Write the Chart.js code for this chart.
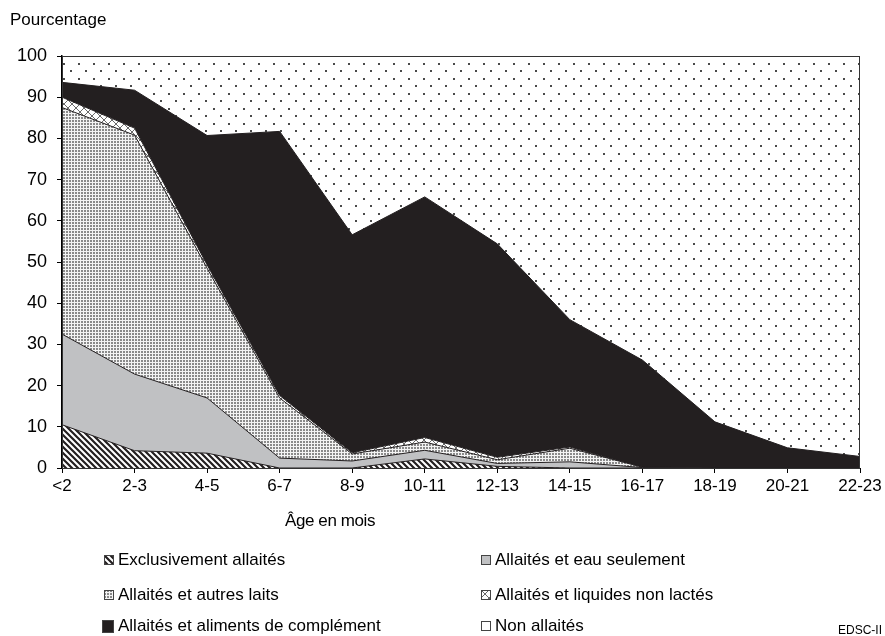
<!DOCTYPE html>
<html>
<head>
<meta charset="utf-8">
<script src="https://cdn.jsdelivr.net/npm/chart.js@4/dist/chart.umd.min.js"></script>
<style>
  body { margin:0; background:#fff; font-family:"Liberation Sans", Arial, sans-serif; color:#000; }
  #wrap { position:relative; width:885px; height:636px; overflow:hidden; }
  #chart { position:absolute; left:0; top:0; }
  .txt { position:absolute; white-space:nowrap; }
  #ytitle { left:10px; top:10px; font-size:17px; }
  #xtitle { left:285px; top:511px; font-size:17px; letter-spacing:-0.4px; }
  #source { left:838px; top:623px; font-size:12px; }
  .leg { position:absolute; font-size:17px; white-space:nowrap; display:flex; align-items:center; }
  .leg canvas { margin-right:4px; }
</style>
</head>
<body>
<div id="wrap">
  <canvas id="chart" width="885" height="636"></canvas>
  <div class="txt" id="ytitle">Pourcentage</div>
  <div class="txt" id="xtitle">Âge en mois</div>
  <div class="txt" id="source">EDSC-II 2007</div>
  <div id="legend"></div>
</div>
<script>

/* DATA */

const ages = ["<2","2-3","4-5","6-7","8-9","10-11","12-13","14-15","16-17","18-19","20-21","22-23"];

const exclusif   = [10.5, 4.2, 3.6, 0, 0, 2.2, 0.4, 0, 0, 0, 0, 0];
const eau        = [22.0, 18.6, 13.4, 2.4, 1.7, 2.1, 0.7, 1.5, 0.1, 0, 0, 0];
const autresLaits= [55.0, 58.0, 31.5, 14.6, 1.7, 2.0, 0.9, 3.3, 0.1, 0, 0, 0];
const liquides   = [2.5, 1.7, 0.8, 0.6, 0.3, 1.1, 0.6, 0.3, 0, 0, 0, 0];
const complement = [3.6, 9.2, 31.4, 64.1, 52.9, 58.4, 51.8, 30.9, 26.0, 11.2, 4.9, 2.8];
const nonAllaites= [6.4, 8.3, 19.3, 18.3, 43.4, 34.2, 45.6, 64.0, 73.8, 88.8, 95.1, 97.2];

const yTicks = [0,10,20,30,40,50,60,70,80,90,100];

/* PATTERNS */

function tile(w, h, draw){
  const c = document.createElement("canvas");
  c.width = w; c.height = h;
  const g = c.getContext("2d");
  draw(g);
  return c;
}

const hatchTile = tile(6, 6, g=>{
  g.fillStyle = "#fff"; g.fillRect(0,0,6,6);
  g.strokeStyle = "#231f20"; g.lineWidth = 2.2;
  g.beginPath();
  g.moveTo(-6,-6); g.lineTo(12,12);
  g.moveTo(-6,0); g.lineTo(6,12);
  g.moveTo(0,-6); g.lineTo(12,6);
  g.stroke();
});

const stippleTile = tile(3, 3, g=>{
  g.fillStyle = "#f4f4f4"; g.fillRect(0,0,3,3);
  g.fillStyle = "#8a8a8a"; g.fillRect(0,0,2,2);
});

const crossTile = tile(8, 8, g=>{
  g.fillStyle = "#fff"; g.fillRect(0,0,8,8);
  g.strokeStyle = "#6a6a6a"; g.lineWidth = 1;
  g.beginPath();
  g.moveTo(0,0); g.lineTo(8,8);
  g.moveTo(8,0); g.lineTo(0,8);
  g.stroke();
});

const dotsTile = tile(15, 15, g=>{
  g.fillStyle = "#fff"; g.fillRect(0,0,15,15);
  g.fillStyle = "#4a4a4a";
  g.fillRect(3,3,2,2);
  g.fillRect(10,10,2,2);
});

const ctx = document.getElementById("chart").getContext("2d");
const pat = t => ctx.createPattern(t, "repeat");

const fills = [
  pat(hatchTile),
  "#c0c1c3",
  pat(stippleTile),
  pat(crossTile),
  "#231f20",
  pat(dotsTile)
];

const names = [
  "Exclusivement allaités",
  "Allaités et eau seulement",
  "Allaités et autres laits",
  "Allaités et liquides non lactés",
  "Allaités et aliments de complément",
  "Non allaités"
];

const series = [exclusif, eau, autresLaits, liquides, complement, nonAllaites];

/* CHART */

const framePlugin = {
  id:"frame",
  afterDatasetsDraw(chart){
    const a = chart.chartArea;
    const c = chart.ctx;
    c.save();
    c.strokeStyle = "#333";
    c.lineWidth = 1;
    c.strokeRect(a.left+0.5, a.top+0.5, a.right-a.left-1, a.bottom-a.top);
    c.restore();
  }
};

new Chart(ctx, {
  type:"line",
  data:{
    labels:ages,
    datasets:series.map((d,i)=>({
      label:names[i],
      data:d,
      backgroundColor:fills[i],
      borderColor:"#231f20",
      borderWidth:1,
      fill:i===0 ? "origin" : "-1",
      pointRadius:0,
      tension:0
    }))
  },
  options:{
    responsive:false,
    animation:false,
    layout:{ padding:{ left:0, top:56, right:25, bottom:138 } },
    plugins:{ legend:{ display:false }, tooltip:{ enabled:false } },
    scales:{
      x:{
        offset:false,
        grid:{ display:true, drawOnChartArea:false, drawTicks:true, tickLength:5, color:"#000" },
        border:{ display:true, color:"#000", width:1 },
        ticks:{ color:"#000", font:{ family:"Liberation Sans", size:17 }, padding:3, maxRotation:0, autoSkip:false },
        afterFit(s){ s.height = 30; }
      },
      y:{
        stacked:true,
        min:0, max:100,
        afterBuildTicks(s){ s.ticks = yTicks.map(v=>({ value:v })); },
        grid:{ display:true, drawOnChartArea:false, drawTicks:true, tickLength:5, color:"#000" },
        border:{ display:true, color:"#000", width:1.5 },
        ticks:{ color:"#000", font:{ family:"Liberation Sans", size:18 }, padding:10 },
        afterFit(s){ s.width = 62; }
      }
    }
  },
  plugins:[framePlugin]
});

/* LEGEND */

const legend = document.getElementById("legend");
const legPos = [
  [104, 550], [481, 550],
  [104, 585], [481, 585],
  [102, 616], [481, 616]
];

names.forEach((n,i)=>{
  const item = document.createElement("div");
  item.className = "leg";
  item.style.left = legPos[i][0] + "px";
  item.style.top = legPos[i][1] + "px";
  const big = i === 4;
  const sw = document.createElement("canvas");
  sw.width = big ? 12 : 10;
  sw.height = big ? 13 : 10;
  const g = sw.getContext("2d");
  const src = [hatchTile, null, stippleTile, crossTile, null, null][i];
  g.fillStyle = src ? g.createPattern(src, "repeat") : (i===1 ? "#c0c1c3" : i===4 ? "#231f20" : "#fff");
  g.fillRect(0,0,sw.width,sw.height);
  g.strokeStyle = "#444";
  g.lineWidth = 1;
  g.strokeRect(0.5,0.5,sw.width-1,sw.height-1);
  item.appendChild(sw);
  const t = document.createElement("span");
  t.textContent = n;
  item.appendChild(t);
  legend.appendChild(item);
});

</script>
</body>
</html>
